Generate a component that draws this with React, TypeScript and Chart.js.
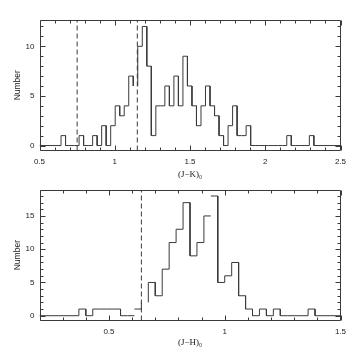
import React, { useEffect, useRef } from 'react';
import { Chart, registerables } from 'chart.js';

Chart.register(...registerables);

// ---------- Top panel: (J-K)0 histogram ----------
const jkBinStart = 0.643;
const jkBinWidth = 0.03;
const jkCounts = [
  1, 0, 0, 0, 1, 0, 0, 1, 0, 2,
  0, 2, 4, 3, 4, 7, 6, 10, 12, 8,
  1, 4, 4, 6, 4, 7, 4, 9, 6, 4,
  2, 4, 6, 4, 3, 1, 0, 2, 4, 1,
  1, 2, 0, 0, 0, 0, 0, 0, 0, 0,
  1, 0, 0, 0, 0, 1,
];
const jkHiddenBins = [16];
const jkHiddenEdges: number[] = [];
const jkCuts = [0.75, 1.15];
const jkXTicks = [0.5, 1, 1.5, 2, 2.5];
const jkYTicks = [0, 5, 10];

// ---------- Bottom panel: (J-H)0 histogram ----------
const jhBinStart = 0.37;
const jhBinWidth = 0.03;
const jhCounts = [
  1, 0, 1, 1, 1, 1, 0, 0, 1, 2,
  5, 3, 7, 11, 13, 17, 9, 11, 15, 18,
  5, 6, 8, 3, 1, 0, 1, 0, 1, 0,
  0, 0, 0, 1,
];
const jhHiddenBins = [9];
const jhHiddenEdges = [8, 19];
const jhCuts = [0.64];
const jhXTicks = [0.5, 1, 1.5];
const jhYTicks = [0, 5, 10, 15];

type Pt = { x: number; y: number | null };

function stepPoints(
  xMin: number,
  xMax: number,
  start: number,
  width: number,
  counts: number[],
  hiddenBins: number[],
  hiddenEdges: number[]
): Pt[] {
  const pts: Pt[] = [{ x: xMin, y: 0 }, { x: start, y: 0 }];
  counts.forEach((c, i) => {
    const x0 = start + i * width;
    const x1 = x0 + width;
    if (hiddenEdges.includes(i)) pts.push({ x: x0, y: null });
    pts.push({ x: x0, y: c });
    if (hiddenBins.includes(i)) pts.push({ x: (x0 + x1) / 2, y: null });
    pts.push({ x: x1, y: c });
  });
  const end = start + counts.length * width;
  pts.push({ x: end, y: 0 });
  pts.push({ x: xMax, y: 0 });
  return pts;
}

const INK = '#3a3a3a';

const framePlugin = {
  id: 'frame',
  afterDraw(chart: any, _args: any, opts: any) {
    const { ctx, chartArea: a, scales } = chart;
    const x = scales.x;
    const y = scales.y;
    ctx.save();
    ctx.strokeStyle = INK;
    ctx.lineWidth = 1;
    const L = Math.round(a.left) + 0.5;
    const R = Math.round(a.right) - 0.5;
    const T = Math.round(a.top) + 0.5;
    const B = Math.round(a.bottom) - 0.5;
    ctx.beginPath();
    ctx.rect(L, T, R - L, B - T);
    ctx.stroke();
    const seg = (x1: number, y1: number, x2: number, y2: number) => {
      ctx.beginPath();
      ctx.moveTo(x1, y1);
      ctx.lineTo(x2, y2);
      ctx.stroke();
    };
    const isMajor = (v: number, step: number) =>
      Math.abs(v / step - Math.round(v / step)) < 1e-6;
    // x ticks
    {
      const i0 = Math.ceil(x.min / opts.xMinor - 1e-6);
      const i1 = Math.floor(x.max / opts.xMinor + 1e-6);
      for (let i = i0; i <= i1; i++) {
        const v = i * opts.xMinor;
        const px = Math.round(x.getPixelForValue(v)) + 0.5;
        const len = isMajor(v, opts.xMajor) ? 5 : 3;
        seg(px, B, px, B - len);
        seg(px, T, px, T + len);
      }
    }
    // y ticks
    {
      const i0 = Math.ceil(y.min / opts.yMinor - 1e-6);
      const i1 = Math.floor(y.max / opts.yMinor + 1e-6);
      for (let i = i0; i <= i1; i++) {
        const v = i * opts.yMinor;
        const py = Math.round(y.getPixelForValue(v)) + 0.5;
        const len = isMajor(v, opts.yMajor) ? 5 : 3;
        seg(L, py, L + len, py);
        seg(R, py, R - len, py);
      }
    }
    ctx.restore();
  },
};

type PanelProps = {
  xMin: number;
  xMax: number;
  yMin: number;
  yMax: number;
  binStart: number;
  binWidth: number;
  counts: number[];
  hiddenBins: number[];
  hiddenEdges: number[];
  cuts: number[];
  xTicks: number[];
  yTicks: number[];
  xTitle: string;
  padTop: number;
  xHeight: number;
  titlePadBottom: number;
};

function Panel(p: PanelProps) {
  const ref = useRef<HTMLCanvasElement | null>(null);
  useEffect(() => {
    if (!ref.current) return;
    const hist = stepPoints(
      p.xMin,
      p.xMax,
      p.binStart,
      p.binWidth,
      p.counts,
      p.hiddenBins,
      p.hiddenEdges
    );
    const cutSets = p.cuts.map((c) => ({
      data: [
        { x: c, y: p.yMin },
        { x: c, y: p.yMax },
      ],
      borderColor: INK,
      borderWidth: 1,
      borderDash: [5, 3],
      pointRadius: 0,
      fill: false,
    }));
    const tickFont = { family: "'Liberation Sans', Arial, sans-serif", size: 8 };
    const chart = new Chart(ref.current, {
      type: 'line',
      data: {
        datasets: [
          {
            data: hist as any,
            borderColor: INK,
            borderWidth: 1,
            pointRadius: 0,
            tension: 0,
            spanGaps: false,
            fill: false,
          },
          ...(cutSets as any),
        ],
      },
      options: {
        animation: false,
        responsive: false,
        events: [],
        layout: { padding: { top: p.padTop, right: 19.5, left: 0, bottom: 0 } },
        plugins: {
          legend: { display: false },
          tooltip: { enabled: false },
          frame: { xMinor: 0.1, xMajor: 0.5, yMinor: 1, yMajor: 5 },
        } as any,
        scales: {
          x: {
            type: 'linear',
            min: p.xMin,
            max: p.xMax,
            grid: { display: false, drawTicks: false },
            border: { display: false },
            afterBuildTicks: (s: any) => {
              s.ticks = p.xTicks.map((v) => ({ value: v }));
            },
            afterFit: (s: any) => {
              s.height = p.xHeight;
            },
            ticks: {
              autoSkip: false,
              maxRotation: 0,
              padding: 6,
              color: '#222',
              font: tickFont,
              callback: (v: any) => String(v),
            },
            title: {
              display: true,
              text: p.xTitle,
              color: '#222',
              font: { family: "'Liberation Serif', 'DejaVu Serif', serif", size: 9 },
              padding: { top: 0, bottom: p.titlePadBottom },
            },
          },
          y: {
            type: 'linear',
            min: p.yMin,
            max: p.yMax,
            grid: { display: false, drawTicks: false },
            border: { display: false },
            afterBuildTicks: (s: any) => {
              s.ticks = p.yTicks.map((v) => ({ value: v }));
            },
            afterFit: (s: any) => {
              s.width = 39.5;
            },
            ticks: {
              autoSkip: false,
              padding: 5,
              color: '#222',
              font: tickFont,
              callback: (v: any) => String(v),
            },
            title: {
              display: true,
              text: 'Number',
              color: '#222',
              font: { family: "'Liberation Sans', Arial, sans-serif", size: 8.5 },
              padding: { top: 13, bottom: 0 },
            },
          },
        },
      } as any,
      plugins: [framePlugin as any],
    });
    return () => chart.destroy();
  }, []);
  return (
    <canvas
      ref={ref}
      width={360}
      height={180}
      style={{ display: 'block', width: 360, height: 180 }}
    />
  );
}

export default function App() {
  return (
    <div
      style={{
        position: 'fixed',
        left: 0,
        top: 0,
        width: 360,
        height: 360,
        background: '#fff',
      }}
    >
      <Panel
        xMin={0.5}
        xMax={2.5}
        yMin={-0.5}
        yMax={12.65}
        binStart={jkBinStart}
        binWidth={jkBinWidth}
        counts={jkCounts}
        hiddenBins={jkHiddenBins}
        hiddenEdges={jkHiddenEdges}
        cuts={jkCuts}
        xTicks={jkXTicks}
        yTicks={jkYTicks}
        xTitle="(J−K)₀"
        padTop={20}
        xHeight={29.5}
        titlePadBottom={0}
      />
      <Panel
        xMin={0.2}
        xMax={1.5}
        yMin={-0.72}
        yMax={18.93}
        binStart={jhBinStart}
        binWidth={jhBinWidth}
        counts={jhCounts}
        hiddenBins={jhHiddenBins}
        hiddenEdges={jhHiddenEdges}
        cuts={jhCuts}
        xTicks={jhXTicks}
        yTicks={jhYTicks}
        xTitle="(J−H)₀"
        padTop={9.5}
        xHeight={39.5}
        titlePadBottom={12}
      />
    </div>
  );
}
